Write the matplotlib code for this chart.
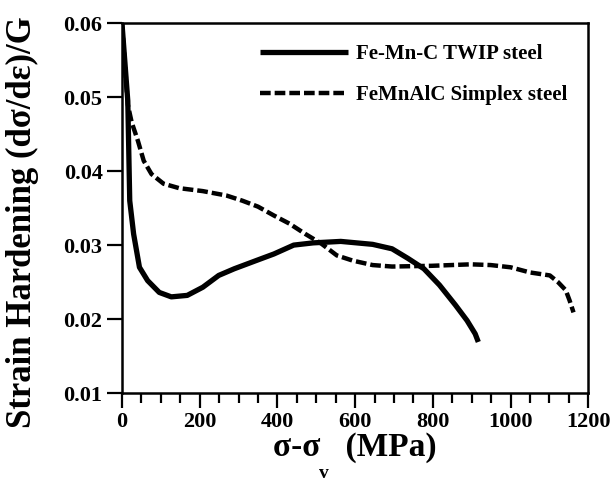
import matplotlib.pyplot as plt
from matplotlib.ticker import MultipleLocator

plt.rcParams['font.family'] = ['Liberation Serif', 'DejaVu Sans']
plt.rcParams['font.weight'] = 'bold'

# Fe-Mn-C TWIP steel
twip_x = [0, 15, 20, 30, 45, 66, 96, 127, 168, 208, 249, 289, 350, 391, 442,
          492, 563, 645, 695, 736, 777, 817, 858, 888, 909, 917]
twip_y = [0.060, 0.0495, 0.036, 0.0315, 0.027, 0.0252, 0.0236, 0.0230, 0.0232,
          0.0243, 0.0259, 0.0268, 0.0280, 0.0288, 0.0300, 0.0303, 0.0305,
          0.0301, 0.0295, 0.0282, 0.0268, 0.0246, 0.0219, 0.0198, 0.0180, 0.0169]

# FeMnAlC Simplex steel
simplex_x = [0, 15, 25, 41, 56, 76, 107, 147, 208, 269, 310, 350, 391, 431, 472,
             513, 553, 594, 645, 695, 797, 898, 949, 1000, 1050, 1101, 1122,
             1142, 1152, 1162]
simplex_y = [0.060, 0.049, 0.0466, 0.0441, 0.0414, 0.0396, 0.0383, 0.0377,
             0.0373, 0.0367, 0.0360, 0.0352, 0.0340, 0.0329, 0.0315, 0.0302,
             0.0286, 0.0279, 0.0273, 0.0271, 0.0272, 0.0274, 0.0273, 0.0270,
             0.0263, 0.0259, 0.0250, 0.0239, 0.0225, 0.0209]

y_ticks = [0.01, 0.02, 0.03, 0.04, 0.05, 0.06]
y_ticklabels = ['0.01', '0.02', '0.03', '0.04', '0.05', '0.06']

fig = plt.figure(figsize=(6.16, 4.84), dpi=100)
ax = fig.add_axes([0.198, 0.188, 0.757, 0.764])

ax.plot(twip_x, twip_y, color='black', lw=3.8, label='Fe-Mn-C TWIP steel',
        solid_capstyle='butt')
ax.plot(simplex_x, simplex_y, color='black', lw=3.2, dashes=(2.4, 0.9),
        label='FeMnAlC Simplex steel')

ax.set_xlim(0, 1200)
ax.set_ylim(0.01, 0.06)
ax.xaxis.set_major_locator(MultipleLocator(200))
ax.xaxis.set_minor_locator(MultipleLocator(50))
ax.set_yticks(y_ticks, y_ticklabels)
ax.tick_params(axis='both', which='major', direction='out', length=11, width=1.6,
               labelsize=16, pad=3)
ax.tick_params(axis='x', which='minor', direction='out', length=7, width=1.6)
for lbl in ax.get_xticklabels() + ax.get_yticklabels():
    lbl.set_fontweight('bold')
for s in ax.spines.values():
    s.set_linewidth(1.8)

ax.set_ylabel('Strain Hardening (dσ/dε)/G', fontsize=25, fontweight='bold')
ax.yaxis.set_label_coords(-0.178, 0.462)
ax.set_xlabel('σ-σ   (MPa)', fontsize=24, fontweight='bold', labelpad=0)
fig.text(0.525, 0.005, 'v', fontsize=14, fontweight='bold', ha='center', va='bottom')

ax.legend(loc='upper right', frameon=False, fontsize=15, handlelength=4.2,
          handletextpad=0.4, labelspacing=1.0, borderaxespad=0.6)

fig.savefig('out.png', dpi=100)
